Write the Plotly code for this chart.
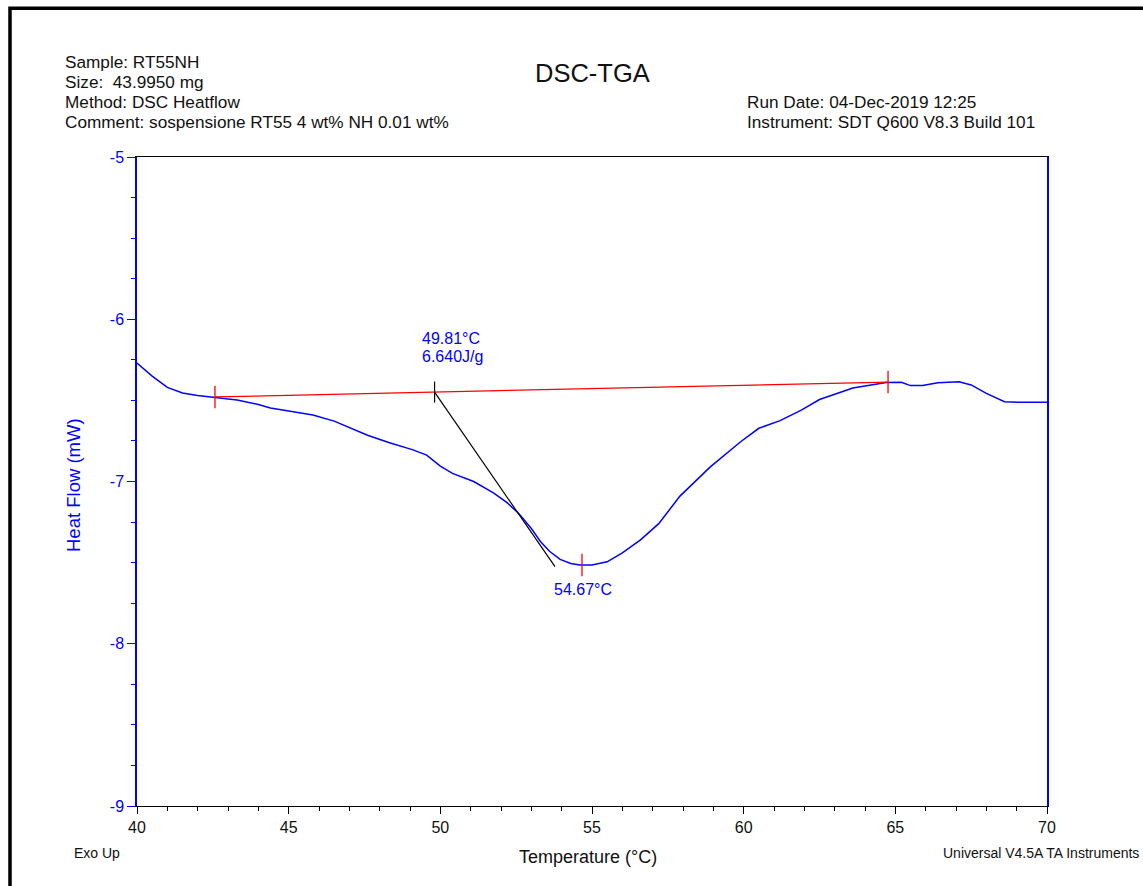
import plotly.graph_objects as go

# ---- data ----
temperature = [40.0, 40.5, 41.0, 41.5, 42.0, 42.6, 43.3, 44.0, 44.4, 45.1, 45.8, 46.5,
               47.0, 47.6, 48.3, 49.1, 49.55, 50.0, 50.4, 51.1, 51.75, 52.2, 52.6, 53.0,
               53.3, 53.6, 53.95, 54.3, 54.6, 55.0, 55.5, 56.0, 56.6, 57.2, 57.9, 58.9,
               59.9, 60.5, 61.2, 61.9, 62.5, 63.2, 63.6, 64.2, 64.7, 65.2, 65.5, 65.9,
               66.4, 67.1, 67.5, 68.0, 68.6, 69.1, 70.0]
heat_flow = [-6.27, -6.35, -6.42, -6.455, -6.47, -6.484, -6.498, -6.525, -6.547, -6.568,
             -6.59, -6.628, -6.666, -6.715, -6.76, -6.805, -6.837, -6.905, -6.95, -7.0,
             -7.07, -7.13, -7.2, -7.29, -7.37, -7.43, -7.48, -7.505, -7.515, -7.515,
             -7.495, -7.44, -7.36, -7.26, -7.09, -6.91, -6.755, -6.672, -6.625, -6.56,
             -6.495, -6.45, -6.424, -6.405, -6.39, -6.389, -6.409, -6.409, -6.391,
             -6.385, -6.405, -6.457, -6.508, -6.512, -6.512]

baseline_T = [42.57, 64.76]
baseline_HF = [-6.479, -6.387]
onset_T = 49.81
tangent_end_T = 53.78
tangent_end_HF = -7.525
peak_T = 54.67
peak_HF = -7.515
enthalpy_label = "6.640J/g"

x_ticks = [40, 45, 50, 55, 60, 65, 70]
y_ticks = [-9, -8, -7, -6, -5]

onset_HF = baseline_HF[0] + (onset_T - baseline_T[0]) / (baseline_T[1] - baseline_T[0]) * (baseline_HF[1] - baseline_HF[0])

FONT = "Arial, Liberation Sans, sans-serif"
BLUE = "#0000ff"
TXT = "#111111"

fig = go.Figure()
fig.add_trace(go.Scatter(x=temperature, y=heat_flow, mode="lines",
                         line=dict(color=BLUE, width=1.5), showlegend=False))
fig.add_trace(go.Scatter(x=baseline_T, y=baseline_HF, mode="lines+markers",
                         line=dict(color="#ff0000", width=1.3),
                         marker=dict(symbol="line-ns", size=16, line=dict(color="#ff0000", width=1.3)),
                         showlegend=False))
fig.add_trace(go.Scatter(x=[onset_T, tangent_end_T], y=[onset_HF, tangent_end_HF], mode="lines",
                         line=dict(color="black", width=1.2), showlegend=False))
fig.add_trace(go.Scatter(x=[onset_T], y=[onset_HF], mode="markers",
                         marker=dict(symbol="line-ns", size=15, line=dict(color="black", width=1.2)),
                         showlegend=False))
fig.add_trace(go.Scatter(x=[peak_T], y=[peak_HF], mode="markers",
                         marker=dict(symbol="line-ns", size=16, line=dict(color="#ff0000", width=1.3)),
                         showlegend=False))

# body margin is removed by post_script, so figure pixels == page pixels
W, H = 1143, 886
L, T = 137, 157
R = W - 1047
B = H - 806
PW, PH = W - L - R, H - T - B


def px(xp):  # page pixel -> paper x
    return (xp - L) / PW


def py(yp):  # page pixel -> paper y
    return (H - B - yp) / PH


annots = []
hdr_font = dict(family=FONT, size=17.2, color=TXT)
for i, line in enumerate(["Sample: RT55NH", "Size:  43.9950 mg", "Method: DSC Heatflow",
                          "Comment: sospensione RT55 4 wt% NH 0.01 wt%"]):
    annots.append(dict(x=px(63), y=py(62 + i * 20), xref="paper", yref="paper", text=line,
                       showarrow=False, xanchor="left", yanchor="middle", font=hdr_font))
for i, line in enumerate(["Run Date: 04-Dec-2019 12:25", "Instrument: SDT Q600 V8.3 Build 101"]):
    annots.append(dict(x=px(745), y=py(102 + i * 20), xref="paper", yref="paper", text=line,
                       showarrow=False, xanchor="left", yanchor="middle", font=hdr_font))
annots.append(dict(x=px(592), y=py(73), xref="paper", yref="paper", text="DSC-TGA",
                   showarrow=False, xanchor="center", yanchor="middle",
                   font=dict(family=FONT, size=25.5, color=TXT)))
annots.append(dict(x=px(588), y=py(857), xref="paper", yref="paper", text="Temperature (°C)",
                   showarrow=False, xanchor="center", yanchor="middle",
                   font=dict(family=FONT, size=18, color=TXT)))
annots.append(dict(x=px(73), y=py(485), xref="paper", yref="paper", text="Heat Flow (mW)",
                   showarrow=False, xanchor="center", yanchor="middle", textangle=-90,
                   font=dict(family=FONT, size=18.5, color=BLUE)))
annots.append(dict(x=px(72), y=py(853), xref="paper", yref="paper", text="Exo Up",
                   showarrow=False, xanchor="left", yanchor="middle",
                   font=dict(family=FONT, size=14, color=TXT)))
annots.append(dict(x=px(1141), y=py(853), xref="paper", yref="paper",
                   text="Universal V4.5A TA Instruments",
                   showarrow=False, xanchor="right", yanchor="middle",
                   font=dict(family=FONT, size=14, color=TXT)))
lab_font = dict(family=FONT, size=16, color=BLUE)
annots.append(dict(x=px(420), y=py(338), xref="paper", yref="paper", text=f"{onset_T:.2f}°C",
                   showarrow=False, xanchor="left", yanchor="middle", font=lab_font))
annots.append(dict(x=px(420), y=py(356), xref="paper", yref="paper", text=enthalpy_label,
                   showarrow=False, xanchor="left", yanchor="middle", font=lab_font))
annots.append(dict(x=px(583), y=py(589), xref="paper", yref="paper", text=f"{peak_T:.2f}°C",
                   showarrow=False, xanchor="center", yanchor="middle", font=lab_font))

fig.update_layout(
    width=W, height=H,
    margin=dict(l=L, r=R, t=T, b=B, pad=0),
    paper_bgcolor="white", plot_bgcolor="white",
    annotations=annots,
    shapes=[dict(type="path", xref="paper", yref="paper",
                 path=f"M {px(10)} {py(900)} L {px(10)} {py(8.3)} L {px(1160)} {py(8.3)}",
                 line=dict(color="black", width=3.5))],
    xaxis=dict(range=[40, 70], tickvals=x_ticks, ticktext=[str(v) for v in x_ticks],
               ticks="outside", ticklen=7, tickwidth=1,
               tickcolor="black", showgrid=False, zeroline=False, showline=True,
               linecolor="black", linewidth=1, mirror=True,
               tickfont=dict(family=FONT, size=16, color=TXT),
               minor=dict(dtick=1, tick0=40, ticks="outside", ticklen=4, tickcolor="black", showgrid=False)),
    yaxis=dict(range=[-9, -5], tickvals=y_ticks, ticktext=[str(v) for v in y_ticks],
               ticks="outside", ticklen=8, tickwidth=1,
               tickcolor=BLUE, showgrid=False, zeroline=False, showline=True,
               linecolor=BLUE, linewidth=1.5, mirror=True,
               tickfont=dict(family=FONT, size=16, color=BLUE),
               minor=dict(dtick=0.25, tick0=-9, ticks="outside", ticklen=4, tickcolor=BLUE, showgrid=False)),
)

fig.write_html("out.html", config={"displayModeBar": False},
               post_script="document.body.style.margin='0px';document.body.style.overflow='hidden';")
